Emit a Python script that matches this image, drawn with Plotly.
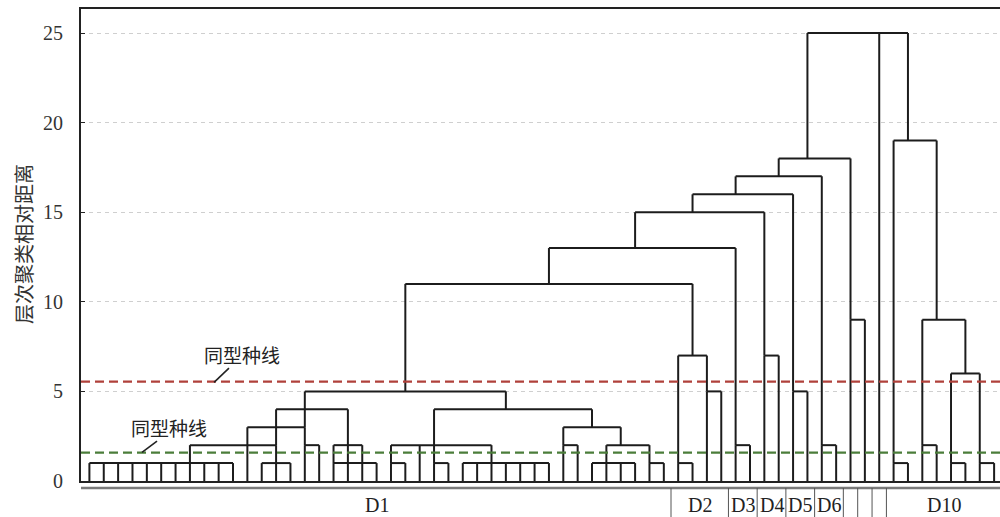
import plotly.graph_objects as go

# Dendrogram merges: height of each horizontal link and the branches hanging from it,
# given as (leaf position, height the branch starts from).
merge_heights = [
    1, 1, 2, 2, 3, 1, 2, 4,          # left block of D1
    1, 2, 1, 1, 4, 2, 1, 2, 3, 1,    # right block of D1
    5,                                # D1 joined
    1, 5, 7, 11,                      # D2
    2, 13, 7, 15, 5, 16, 2, 17, 9, 18,
    1, 2, 1, 1, 6, 9, 19,             # D10
    25,
]
merge_branches = [
    [(0, 0), (1, 0), (2, 0), (3, 0), (4, 0), (5, 0), (6, 0), (7, 0), (8, 0), (9, 0), (10, 0)],
    [(12, 0), (13, 0), (14, 0)],
    [(7, 1), (13, 1)],
    [(15, 0), (16, 0)],
    [(11, 0), (15, 2)],
    [(17, 0), (18, 0), (19, 0), (20, 0)],
    [(17, 1), (19, 1)],
    [(13, 2), (18, 1)],
    [(21, 0), (22, 0)],
    [(21, 1), (23, 0), (28, 1)],
    [(24, 0), (25, 0)],
    [(26, 0), (27, 0), (28, 0), (29, 0), (30, 0), (31, 0), (32, 0)],
    [(24, 1), (35, 3)],
    [(33, 0), (34, 0)],
    [(35, 0), (36, 0), (37, 0), (38, 0)],
    [(36, 1), (39, 1)],
    [(33, 2), (37, 2)],
    [(39, 0), (40, 0)],
    [(15, 3), (29, 4)],
    [(41, 0), (42, 0)],
    [(43, 0), (44, 0)],
    [(41, 1), (43, 5)],
    [(22, 5), (42, 7)],
    [(45, 0), (46, 0)],
    [(32, 11), (45, 2)],
    [(47, 0), (48, 0)],
    [(38, 13), (47, 7)],
    [(49, 0), (50, 0)],
    [(42, 15), (49, 5)],
    [(51, 0), (52, 0)],
    [(45, 16), (51, 2)],
    [(53, 0), (54, 0)],
    [(48, 17), (53, 9)],
    [(56, 0), (57, 0)],
    [(58, 0), (59, 0)],
    [(60, 0), (61, 0)],
    [(62, 0), (63, 0)],
    [(60, 1), (62, 1)],
    [(58, 2), (61, 6)],
    [(56, 1), (59, 9)],
    [(50, 18), (55, 0), (57, 19)],
]

# Leaf groups (first leaf, last leaf) and their labels
group_ranges = [(0, 40), (41, 44), (45, 46), (47, 48), (49, 50), (51, 52),
                (53, 53), (54, 54), (55, 55), (56, 63)]
group_labels = ["D1", "D2", "D3", "D4", "D5", "D6", "", "", "", "D10"]

# Phenon lines
phenon_upper = 5.55
phenon_lower = 1.58
phenon_text = "同型种线"

y_ticks = [0, 5, 10, 15, 20, 25]

# Build the link segments
xs, ys = [], []
for h, branches in zip(merge_heights, merge_branches):
    for pos, base in branches:
        xs += [pos, pos, None]
        ys += [base, h, None]
    pos_list = [p for p, _ in branches]
    xs += [min(pos_list), max(pos_list), None]
    ys += [h, h, None]

x_range = [-0.585, 63.41]

fig = go.Figure()
fig.add_trace(go.Scatter(x=xs, y=ys, mode="lines",
                         line=dict(color="#1c1c1c", width=2),
                         hoverinfo="skip", showlegend=False))

fig.add_trace(go.Scatter(x=x_range, y=[phenon_upper] * 2, mode="lines",
                         line=dict(color="#b0413b", width=2.2, dash="9px,5px"),
                         hoverinfo="skip", showlegend=False))
fig.add_trace(go.Scatter(x=x_range, y=[phenon_lower] * 2, mode="lines",
                         line=dict(color="#4b7d3a", width=2.2, dash="9px,5px"),
                         hoverinfo="skip", showlegend=False))

serif = "Liberation Serif, Times New Roman, serif"
cjk = "Noto Sans CJK SC"

# Phenon line labels with leader strokes
fig.add_annotation(x=10.63, y=7.05, text=phenon_text, showarrow=False,
                   font=dict(family=cjk, size=19, color="#222"))
fig.add_shape(type="line", x0=8.68, y0=5.5, x1=9.72, y1=6.3,
              line=dict(color="#222", width=1.6))
fig.add_annotation(x=5.55, y=3.0, text=phenon_text, showarrow=False,
                   font=dict(family=cjk, size=19, color="#222"))
fig.add_shape(type="line", x0=3.66, y0=1.6, x1=4.71, y1=2.23,
              line=dict(color="#222", width=1.6))

# Group axis under the dendrogram
plot_h = 517 - 9 - 36
band_top = -7 / plot_h
band_bottom = -36 / plot_h
fig.add_shape(type="line", xref="paper", yref="paper", x0=0, x1=1,
              y0=band_top, y1=band_top, line=dict(color="#7a7a7a", width=2.5))
for (a, b), (c, d) in zip(group_ranges[:-1], group_ranges[1:]):
    bx = (b + c) / 2
    fig.add_shape(type="line", xref="x", yref="paper", x0=bx, x1=bx,
                  y0=band_top, y1=band_bottom, line=dict(color="#555", width=1))
for (a, b), lab in zip(group_ranges, group_labels):
    if lab:
        fig.add_annotation(x=(a + b) / 2, xref="x", y=-24 / plot_h, yref="paper",
                           text=lab, showarrow=False, yanchor="middle",
                           font=dict(family=serif, size=20, color="#222"))

# Y-axis title
fig.add_annotation(x=-58 / 919, xref="paper", y=0.502, yref="paper",
                   xanchor="center", yanchor="middle",
                   text="层次聚类相对距离", textangle=-90, showarrow=False,
                   font=dict(family=cjk, size=20, color="#333"))

fig.update_layout(
    width=1000, height=517,
    margin=dict(l=81, r=0, t=9, b=36),
    plot_bgcolor="white", paper_bgcolor="white",
    showlegend=False,
    xaxis=dict(range=x_range, showgrid=False, zeroline=False,
               showticklabels=False, ticks="",
               showline=True, mirror=True, linecolor="#222", linewidth=2),
    yaxis=dict(range=[0, 26.34], tickvals=y_ticks, zeroline=False,
               showgrid=True, gridcolor="#cfcfcf", gridwidth=1, griddash="4px,4px",
               showline=True, linecolor="#222", linewidth=2,
               ticks="inside", ticklen=4, tickcolor="#222",
               ticklabelstandoff=12,
               tickfont=dict(family=serif, size=20, color="#333")),
)

fig.write_html("out.html")
